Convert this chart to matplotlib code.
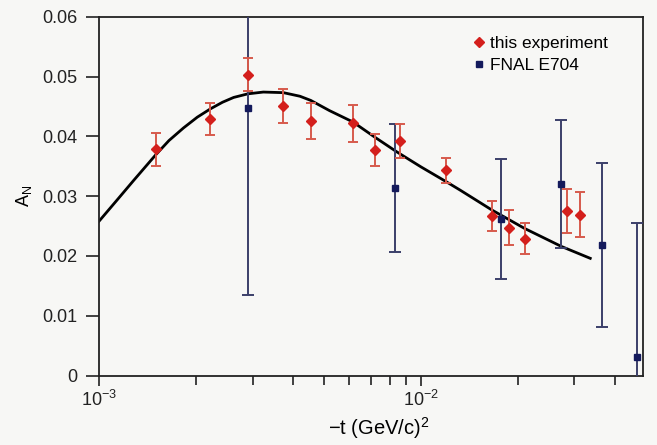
import matplotlib
matplotlib.use("Agg")
import matplotlib.pyplot as plt
from matplotlib.lines import Line2D
from matplotlib.ticker import LogLocator, NullFormatter

# ---- data ----
exp_t = [1.50e-3, 2.22e-3, 2.90e-3, 3.74e-3, 4.55e-3, 6.15e-3, 7.22e-3, 8.62e-3,
         1.20e-2, 1.66e-2, 1.88e-2, 2.10e-2, 2.84e-2, 3.13e-2]
exp_A = [0.0378, 0.0429, 0.0503, 0.0451, 0.0426, 0.0422, 0.0377, 0.0392,
         0.0343, 0.0267, 0.0247, 0.0229, 0.0275, 0.0269]
exp_err = [0.0027, 0.0026, 0.0028, 0.0028, 0.0030, 0.0031, 0.0027, 0.0029,
           0.0021, 0.0025, 0.0029, 0.0026, 0.0037, 0.0038]

e704_t = [2.90e-3, 8.32e-3, 1.77e-2, 2.73e-2, 3.66e-2, 4.69e-2]
e704_A = [0.0447, 0.0314, 0.0262, 0.0320, 0.0218, 0.0031]
e704_err = [0.0313, 0.0107, 0.0100, 0.0107, 0.0137, 0.0224]

curve_t = [1.0e-3, 1.14e-3, 1.28e-3, 1.5e-3, 1.65e-3, 1.83e-3, 2.02e-3, 2.22e-3,
           2.42e-3, 2.62e-3, 2.9e-3, 3.24e-3, 3.74e-3, 4.21e-3, 4.55e-3, 5.2e-3,
           6.15e-3, 7.22e-3, 8.42e-3, 1.0e-2, 1.2e-2, 1.325e-2, 1.66e-2, 2.1e-2,
           2.73e-2, 3.36e-2]
curve_A = [0.0258, 0.0294, 0.0326, 0.0369, 0.0393, 0.0414, 0.0432, 0.0446,
           0.0457, 0.0465, 0.0471, 0.0474, 0.0473, 0.0467, 0.0460, 0.0443,
           0.0424, 0.0398, 0.0374, 0.0349, 0.0324, 0.0310, 0.0277, 0.0246,
           0.0216, 0.0196]

yticks = [0, 0.01, 0.02, 0.03, 0.04, 0.05, 0.06]
ytick_labels = ["0", "0.01", "0.02", "0.03", "0.04", "0.05", "0.06"]

series_labels = ["this experiment", "FNAL E704"]

# ---- styling ----
bg = "#f7f7f5"
red = "#d41f1c"
red_err = "#d75a4c"
navy = "#141a5c"
navy_err = "#3b3f6a"

plt.rcParams["font.family"] = ["Liberation Sans", "DejaVu Sans"]
plt.rcParams["mathtext.fontset"] = "custom"
plt.rcParams["mathtext.rm"] = "Liberation Sans"
plt.rcParams["mathtext.it"] = "Liberation Sans:italic"

fig = plt.figure(figsize=(6.57, 4.45), dpi=100, facecolor=bg)
ax = fig.add_axes([0.1507, 0.156, 0.8280, 0.8065], facecolor=bg)

ax.plot(curve_t, curve_A, color="black", lw=2.0, zorder=2,
        solid_joinstyle="round")

ax.errorbar(e704_t, e704_A, yerr=e704_err, fmt="s", color=navy, ms=5,
            ecolor=navy_err, elinewidth=1.4, capsize=4, capthick=1.4, zorder=3)
ax.errorbar(exp_t, exp_A, yerr=exp_err, fmt="D", color=red, ms=5,
            ecolor=red_err, elinewidth=1.4, capsize=3.5, capthick=1.4, zorder=4)

ax.set_xscale("log")
ax.set_xlim(1e-3, 0.049)
ax.set_ylim(0, 0.06)
ax.set_yticks(yticks)
ax.set_yticklabels(ytick_labels)
ax.xaxis.set_major_locator(LogLocator(base=10, numticks=10))
ax.xaxis.set_minor_locator(LogLocator(base=10, subs=range(2, 10), numticks=20))
ax.xaxis.set_minor_formatter(NullFormatter())

ax.tick_params(axis="y", which="major", direction="out", length=9.5, width=1.2,
               labelsize=13, colors="#222222", pad=6)
ax.tick_params(axis="x", which="major", direction="out", length=7, width=1.2,
               labelsize=13, colors="#222222", pad=3)
ax.tick_params(axis="x", which="minor", direction="out", length=6.5, width=1.2,
               colors="#222222")
for s in ax.spines.values():
    s.set_linewidth(1.3)
    s.set_color("#222222")

ax.set_ylabel(r"A$_\mathrm{N}$", fontsize=13, labelpad=6)
ax.set_xlabel(r"$-$t (GeV/c)$^2$", fontsize=14.5, labelpad=5)
ax.xaxis.set_label_coords(0.515, -0.11)

handles = [
    Line2D([], [], marker="D", color=red, ls="none", ms=5),
    Line2D([], [], marker="s", color=navy, ls="none", ms=5),
]
ax.legend(handles, series_labels, loc="upper right", frameon=False, fontsize=12.5,
          handlelength=0.6, handletextpad=0.35, labelspacing=0.37,
          bbox_to_anchor=(0.965, 0.99))

fig.savefig("out.png", dpi=100, facecolor=bg)
